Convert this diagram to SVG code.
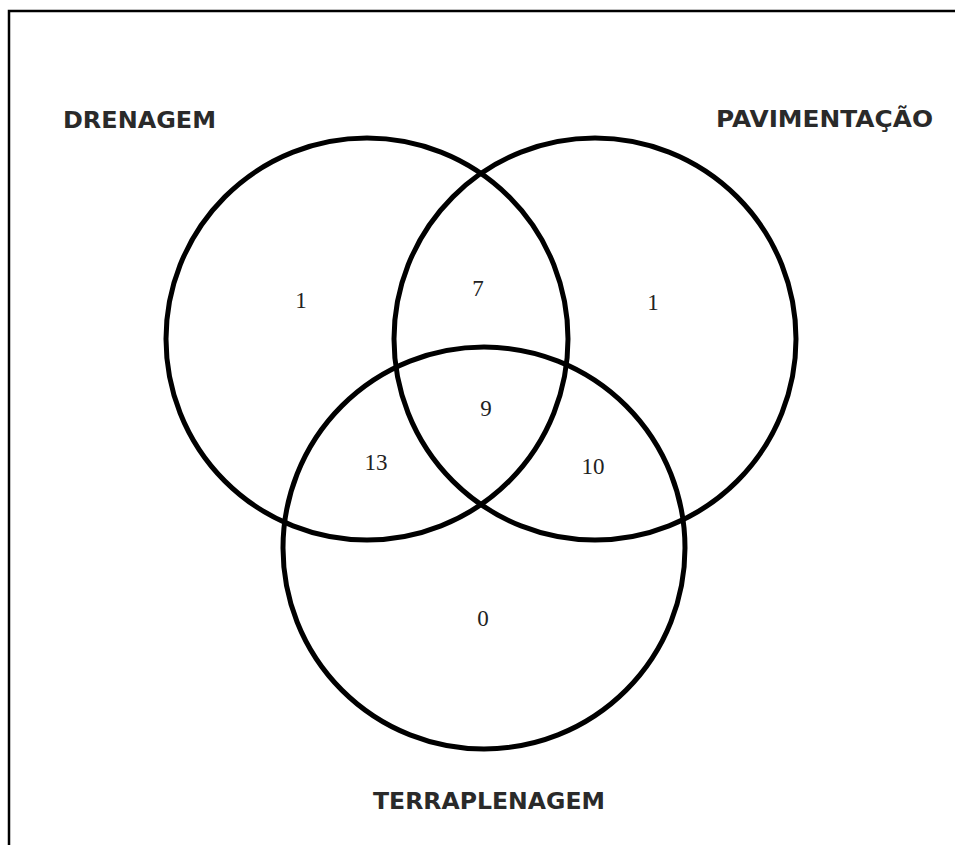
<svg xmlns="http://www.w3.org/2000/svg" width="955" height="845" viewBox="0 0 955 845">
<style>
.c{fill:none;stroke:#000;stroke-width:5}
.lbl{font-family:"DejaVu Sans","Liberation Sans",sans-serif;font-size:23px;fill:#2a2a2a;font-weight:bold}
.n{font-family:"Liberation Serif",serif;font-size:23px;fill:#222;text-anchor:middle}
</style>
<rect width="955" height="845" fill="#fff"/>
<path d="M9,845 V11 H955" fill="none" stroke="#000" stroke-width="2.5"/>
<g id="drenagem"><circle class="c" cx="367" cy="339" r="201"/><text class="lbl" x="63" y="128" textLength="153" lengthAdjust="spacingAndGlyphs">DRENAGEM</text></g>
<g id="pavimentacao"><circle class="c" cx="595" cy="339" r="201"/><text class="lbl" x="716" y="127" textLength="217" lengthAdjust="spacingAndGlyphs">PAVIMENTAÇÃO</text></g>
<g id="terraplenagem"><circle class="c" cx="484" cy="548" r="201"/><text class="lbl" x="373" y="809" textLength="232" lengthAdjust="spacingAndGlyphs">TERRAPLENAGEM</text></g>
<g id="counts">
<text class="n" x="301" y="308">1</text>
<text class="n" x="478" y="296">7</text>
<text class="n" x="653" y="310">1</text>
<text class="n" x="486" y="416">9</text>
<text class="n" x="376" y="470">13</text>
<text class="n" x="593" y="474">10</text>
<text class="n" x="483" y="626">0</text>
</g>
</svg>
